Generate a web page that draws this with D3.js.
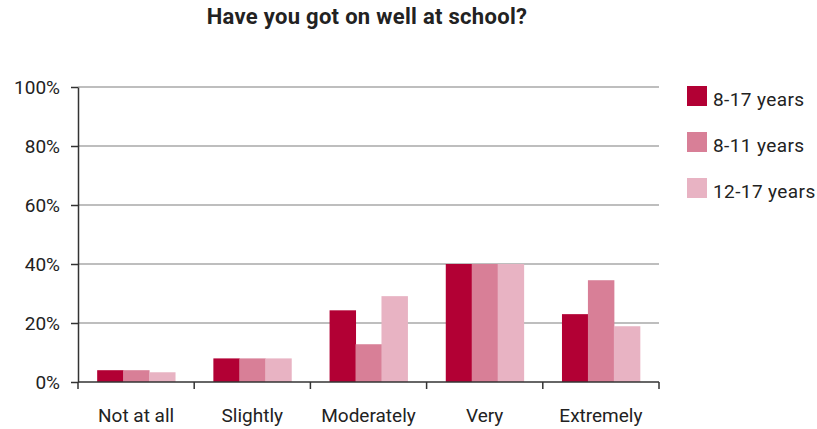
<!DOCTYPE html>
<html>
<head>
<script src="https://d3js.org/d3.v7.min.js"></script>
<style>
  body { margin: 0; background: #fff; }
  text { font-family: Roboto, sans-serif; fill: #222; }
</style>
</head>
<body>
<script>
// chart data
var categories = ["Not at all", "Slightly", "Moderately", "Very", "Extremely"];
var seriesNames = ["8-17 years", "8-11 years", "12-17 years"];
var all817 = [4, 8, 24.3, 40, 23];
var age811 = [4, 8, 12.8, 40, 34.5];
var age1217 = [3.3, 8, 29.1, 40, 18.9];
var yTicks = [0, 20, 40, 60, 80, 100];
var colors = ["#b20034", "#d87f97", "#e8b3c3"];

var series = [all817, age811, age1217];

var W = 817, H = 429;
var margin = {top: 87, right: 158, bottom: 47, left: 78};
var w = W - margin.left - margin.right;
var h = H - margin.top - margin.bottom;

var svg = d3.select("body").append("svg")
  .attr("width", W)
  .attr("height", H);

svg.append("text")
  .attr("x", 367)
  .attr("y", 24)
  .attr("text-anchor", "middle")
  .style("font-size", "22px")
  .style("font-weight", "bold")
  .style("letter-spacing", "0.3px")
  .text("Have you got on well at school?");

var g = svg.append("g")
  .attr("transform", `translate(${margin.left},${margin.top})`);

var x = d3.scaleBand().domain(categories).range([0, w]).paddingInner(0.33).paddingOuter(0.165);
var x0 = d3.scaleBand().domain(categories).range([0, w]);
var xs = d3.scaleBand().domain(d3.range(series.length)).range([0, x.bandwidth()]);
var y = d3.scaleLinear().domain([0, 100]).range([h, 0]);

// gridlines
g.selectAll(".grid")
  .data(yTicks.filter(d => d > 0))
  .enter().append("line")
  .attr("x1", 0).attr("x2", w)
  .attr("y1", d => y(d)).attr("y2", d => y(d))
  .attr("stroke", "#a8a8a8")
  .attr("stroke-width", 1.5);

// bars
series.forEach(function(vals, s) {
  g.selectAll(".bar" + s)
    .data(vals)
    .enter().append("rect")
    .attr("x", (d, i) => x(categories[i]) + xs(s))
    .attr("y", d => y(d))
    .attr("width", xs.bandwidth() + 0.5)
    .attr("height", d => h - y(d))
    .attr("fill", colors[s]);
});

// y axis
var yAxis = g.append("g")
  .call(d3.axisLeft(y).tickValues(yTicks).tickFormat(d => d + "%").tickSize(7).tickSizeOuter(0));
yAxis.select(".domain").attr("stroke", "#333").attr("stroke-width", 1.5);
yAxis.selectAll(".tick line").attr("stroke", "#333").attr("stroke-width", 1.5);
yAxis.selectAll("text")
  .attr("x", -18)
  .attr("dy", "0.36em")
  .style("font-size", "19px")
  .style("font-family", "Roboto, sans-serif")
  .attr("fill", "#222");

// x axis
var xAxisG = g.append("g").attr("transform", `translate(0,${h})`);
xAxisG.append("line")
  .attr("x1", 0).attr("x2", w)
  .attr("stroke", "#333").attr("stroke-width", 1.5);
var bounds = categories.map(c => x0(c)).concat([w]);
xAxisG.selectAll(".xt")
  .data(bounds)
  .enter().append("line")
  .attr("x1", d => d).attr("x2", d => d)
  .attr("y1", 0).attr("y2", 7)
  .attr("stroke", "#333").attr("stroke-width", 1.5);
xAxisG.selectAll(".xl")
  .data(categories)
  .enter().append("text")
  .attr("x", d => x0(d) + x0.bandwidth() / 2)
  .attr("y", 40)
  .attr("text-anchor", "middle")
  .style("font-size", "19px")
  .text(d => d);

// legend
var legend = svg.append("g")
  .attr("transform", "translate(687,86)");
var li = legend.selectAll("g")
  .data(seriesNames)
  .enter().append("g")
  .attr("transform", (d, i) => `translate(0,${i * 46})`);
li.append("rect")
  .attr("width", 20).attr("height", 20)
  .attr("fill", (d, i) => colors[i]);
li.append("text")
  .attr("x", 26).attr("y", 20)
  .style("font-size", "19px")
  .style("letter-spacing", "0.4px")
  .text(d => d);
</script>
</body>
</html>
